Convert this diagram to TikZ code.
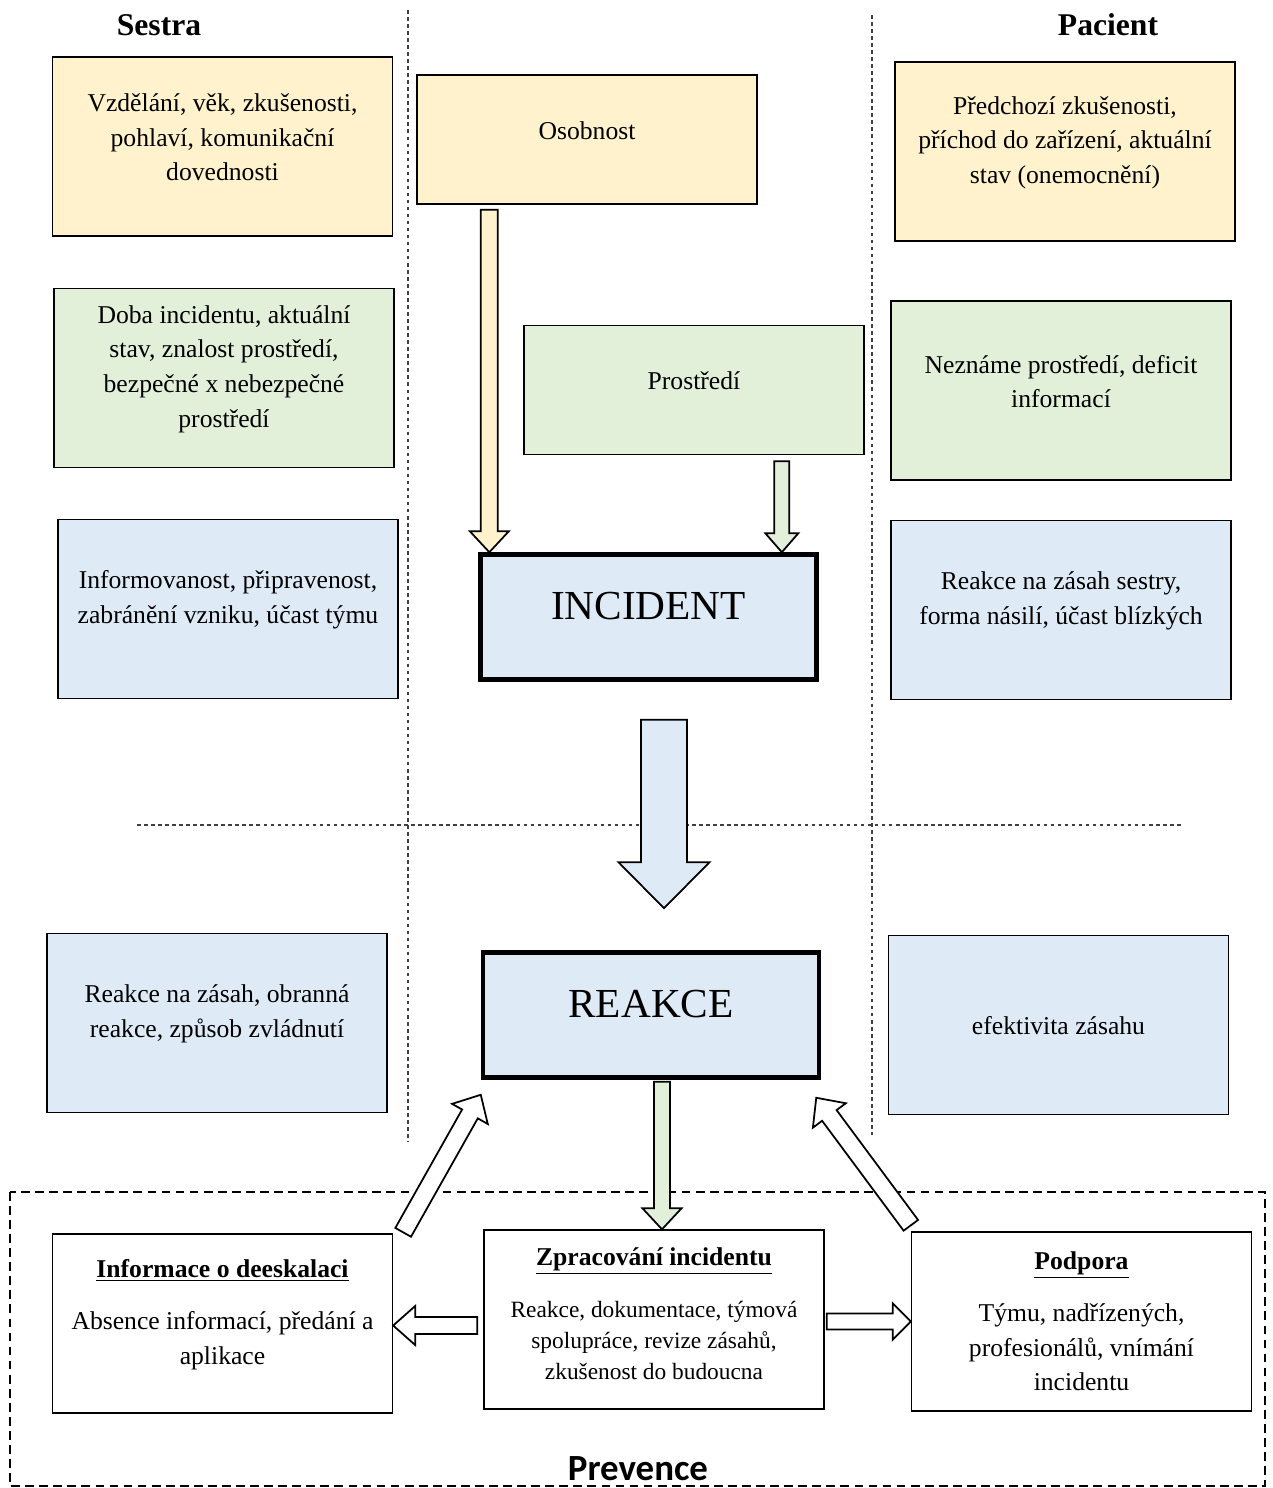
\documentclass[tikz,border=0pt]{standalone}
\usepackage{fontspec}
\setmainfont{Liberation Serif}
\newfontfamily\prevfont{Carlito}
\usetikzlibrary{calc}

\definecolor{yelfill}{HTML}{FFF2CC}
\definecolor{grnfill}{HTML}{E2EFD9}
\definecolor{blufill}{HTML}{DEEBF7}

\newcommand{\bodysize}{\fontsize{14.6}{19.7}\selectfont}
\newcommand{\smallsize}{\fontsize{13.3}{17.6}\selectfont}

\newcommand{\blockarrow}[6][white]{%
  \coordinate (hb) at ($(#3)!#6!(#2)$);
  \draw[fill=#1, line width=1pt, line join=miter]
    ($(#2)!#4!90:(#3)$) -- ($(hb)!#4!90:(#3)$) -- ($(hb)!#5!90:(#3)$) -- (#3)
    -- ($(hb)!#5!-90:(#3)$) -- ($(hb)!#4!-90:(#3)$) -- ($(#2)!#4!-90:(#3)$) -- cycle;
}

\begin{document}
\begin{tikzpicture}[x=0.02cm, y=-0.02cm,
    lift/.style={execute at end node={\endgraf\vspace{#1}}},
    lift/.default=0.36cm,
    sbox/.style={draw, line width=0.8pt, minimum width=6.8cm, minimum height=3.58cm,
      text width=6.3cm, align=flush center, font=\bodysize},
    mbox/.style={sbox, minimum height=2.58cm, lift},
    keybox/.style={draw, line width=2.6pt, fill=blufill, minimum width=6.72cm,
      minimum height=2.5cm, text width=6cm, align=flush center,
      font=\fontsize{23.5}{28}\selectfont, lift=0.42cm},
    head/.style={font=\fontsize{18}{22}\selectfont\bfseries},
    sepline/.style={black!75, line width=0.6pt, dash pattern=on 2pt off 2pt}]

    \useasboundingbox (0,0) rectangle (1272,1488);

    % separators
    \draw[sepline] (408,10) -- (408,1142);

    \draw[sepline] (872,15) -- (872,1135);

    \draw[sepline] (137,825) -- (1183,825);

    \draw[line width=1.3pt, dash pattern=on 5pt off 3pt] (10,1192) rectangle (1265,1486);

    % headers
    \node[head] (sestra) at (159,25) {Sestra};

    \node[head] (pacient) at (1108,25) {Pacient};

    % sestra
    \node[sbox, lift, fill=yelfill] (s1) at (222.5,146.5) {Vzdělání, věk, zkušenosti,\\ pohlaví, komunikační\\ dovednosti};

    \node[sbox, lift, fill=grnfill] (s2) at (224,378) {Doba incidentu, aktuální\\ stav, znalost prostředí,\\ bezpečné x nebezpečné\\ prostředí};

    \node[sbox, lift, fill=blufill] (s3) at (228,609) {Informovanost, připravenost,\\ zabránění vzniku, účast týmu};

    \node[sbox, lift, fill=blufill] (s4) at (217,1023) {Reakce na zásah, obranná\\ reakce, způsob zvládnutí};

    % middle
    \node[mbox, fill=yelfill] (osob) at (587,139.5) {Osobnost};

    \node[mbox, fill=grnfill] (prostr) at (694,390) {Prostředí};

    \node[keybox] (incident) at (648.5,617) {INCIDENT};

    \node[keybox] (reakce) at (651,1015) {REAKCE};

    % pacient
    \node[sbox, lift, fill=yelfill] (p1) at (1065,151.5) {Předchozí zkušenosti,\\ příchod do zařízení, aktuální\\ stav (onemocnění)};

    \node[sbox, lift, fill=grnfill] (p2) at (1061,390.5) {Neznáme prostředí, deficit\\ informací};

    \node[sbox, lift, fill=blufill] (p3) at (1061,610) {Reakce na zásah sestry,\\ forma násilí, účast blízkých};

    \node[sbox, lift=-0.32cm, fill=blufill] (p4) at (1058.5,1025) {efektivita zásahu};

    % prevence
    \node[sbox, lift, fill=white] (info) at (222.5,1323.5) {\underline{\textbf{Informace o deeskalaci}}\\[10pt] Absence informací, předání a\\ aplikace};

    \node[sbox, lift=0.24cm, fill=white, font=\smallsize] (zprac) at (654,1319.5) {{\fontsize{14.6}{17.6}\selectfont\underline{\textbf{Zpracování incidentu}}}\\[12pt] Reakce, dokumentace, týmová\\ spolupráce, revize zásahů,\\ zkušenost do budoucna};

    \node[sbox, fill=white] (podpora) at (1081.5,1321.5) {\underline{\textbf{Podpora}}\\[10pt] Týmu, nadřízených,\\ profesionálů, vnímání\\ incidentu};

    \node[font=\prevfont\fontsize{21}{24}\selectfont\bfseries] (prevence) at (638,1469) {Prevence};

    % arrows
    \coordinate (o1) at ($(osob.south west)+(73,5)$);
    \coordinate (o2) at (o1 |- incident.north);
    \blockarrow[yelfill]{o1}{o2}{0.17cm}{0.39cm}{0.42cm}

    \coordinate (g1) at ($(prostr.south west)+(258.5,6)$);
    \coordinate (g2) at (g1 |- incident.north);
    \blockarrow[grnfill]{g1}{g2}{0.15cm}{0.33cm}{0.38cm}

    \coordinate (b1) at ($(incident.south)+(15.5,38)$);
    \coordinate (b2) at ($(b1 |- reakce.north)+(0,-42)$);
    \blockarrow[blufill]{b1}{b2}{0.46cm}{0.91cm}{0.92cm}

    \coordinate (r1) at ($(reakce.south)+(11,2)$);
    \coordinate (r2) at (r1 |- zprac.north);
    \blockarrow[grnfill]{r1}{r2}{0.16cm}{0.39cm}{0.42cm}

    \coordinate (l1) at ($(zprac.west)+(-6,6)$);
    \coordinate (l2) at (l1 -| info.east);
    \blockarrow{l1}{l2}{0.17cm}{0.39cm}{0.44cm}

    \coordinate (m1) at ($(zprac.east)+(2,2)$);
    \coordinate (m2) at (m1 -| podpora.west);
    \blockarrow{m1}{m2}{0.16cm}{0.36cm}{0.36cm}

    \coordinate (d1) at ($(info.north east)+(10,-1)$);
    \coordinate (d2) at ($(reakce.south west)+(0,15)$);
    \blockarrow{d1}{d2}{0.18cm}{0.41cm}{0.44cm}

    \coordinate (e1) at ($(podpora.north west)+(0,-6)$);
    \coordinate (e2) at ($(reakce.south east)+(-5,18)$);
    \blockarrow{e1}{e2}{0.18cm}{0.41cm}{0.44cm}

\end{tikzpicture}
\end{document}
